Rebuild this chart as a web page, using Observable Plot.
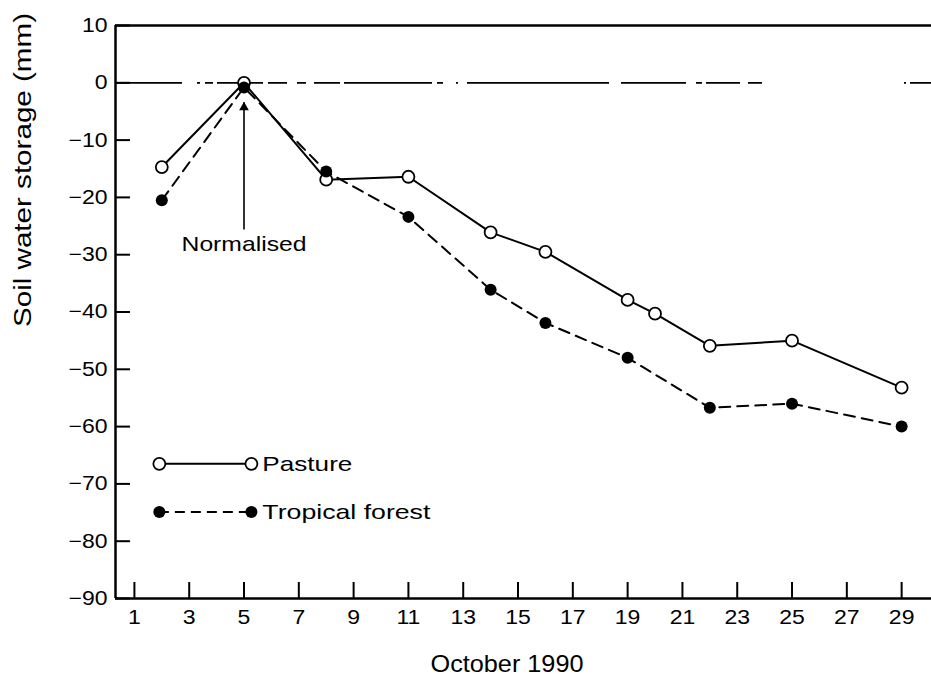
<!DOCTYPE html>
<html><head><meta charset="utf-8">
<script src="https://cdn.jsdelivr.net/npm/d3@7"></script>
<script src="https://cdn.jsdelivr.net/npm/@observablehq/plot@0.6"></script>
<style>
body{margin:0;background:#fff;}
#chart svg{display:block;}
</style></head><body><div id="chart"></div>
<script>
// ---- data ----
const pastureDays = [2, 5, 8, 11, 14, 16, 19, 20, 22, 25, 29];
const pastureValues = [-14.7, 0, -16.9, -16.4, -26.1, -29.5, -37.9, -40.3, -45.9, -45.0, -53.2];
const forestDays = [2, 5, 8, 11, 14, 16, 19, 22, 25, 29];
const forestValues = [-20.5, -0.8, -15.5, -23.4, -36.1, -41.9, -48.0, -56.7, -56.0, -60.0];
const xTicks = [1, 3, 5, 7, 9, 11, 13, 15, 17, 19, 21, 23, 25, 27, 29];
const yTicks = [10, 0, -10, -20, -30, -40, -50, -60, -70, -80, -90];
const seriesNames = ["Pasture", "Tropical forest"];
const annotationText = "Normalised";
const annotationDay = 5;
const xTitle = "October 1990";
const yTitle = "Soil water storage (mm)";

// ---- layout ----
const W = 931, H = 684, ML = 115, MT = 25, MB = 86, MR = 0;
const plotW = W - ML - MR, plotH = H - MT - MB;
const xDomain = [0.31, 30.09], yDomain = [-90, 10];
const font = "'Liberation Sans', Arial, Helvetica, sans-serif";

const pastureData = pastureDays.map((d, i) => ({day: d, value: pastureValues[i]}));
const forestData = forestDays.map((d, i) => ({day: d, value: forestValues[i]}));
const legendRows = [
  {label: seriesNames[0], y: -66.5},
  {label: seriesNames[1], y: -74.9}
];
const legX1 = 1.91, legX2 = 5.27, legTextX = 5.67;
const forestDash = "11,7";
const zeroDash = "67,15,3,5,8,4,46,5,19,10,9,8,26,4,88,5,6,13,2,9,142,12,65,10,6,4,34,8,14,142,2,4,40";

const chart = Plot.plot({
  width: W, height: H,
  marginLeft: ML, marginTop: MT, marginBottom: MB, marginRight: MR,
  style: {fontFamily: font, fontSize: "20px", color: "black", background: "white"},
  x: {domain: xDomain},
  y: {domain: yDomain},
  marks: [
    // zero reference line
    Plot.ruleY([0], {stroke: "black", strokeWidth: 1.8, strokeDasharray: zeroDash}),
    // frame: top, bottom, left
    Plot.ruleY([yDomain[1]], {stroke: "black", strokeWidth: 2.5}),
    Plot.ruleY([yDomain[0]], {stroke: "black", strokeWidth: 2.5}),
    Plot.ruleX([xDomain[0]], {stroke: "black", strokeWidth: 2.5}),
    // inward ticks
    Plot.tickY(yTicks, {y: d => d, stroke: "black", strokeWidth: 2, insetRight: plotW - 15}),
    Plot.tickX(xTicks, {x: d => d, stroke: "black", strokeWidth: 2, insetTop: plotH - 16}),
    // tick labels
    Plot.axisY(yTicks, {tickSize: 0, tickPadding: 8, label: null, fontSize: 20}),
    Plot.axisX(xTicks, {tickSize: 0, tickPadding: 11, label: null, fontSize: 20}),
    // axis titles
    Plot.text([yTitle], {frameAnchor: "left", text: d => d, rotate: -90, dx: -91.5, dy: 15, fontSize: 23, lineAnchor: "middle"}),
    Plot.text([xTitle], {frameAnchor: "bottom", text: d => d, dx: -16.5, dy: 66, fontSize: 24, lineAnchor: "middle"}),
    // data
    Plot.line(pastureData, {x: "day", y: "value", stroke: "black", strokeWidth: 2}),
    Plot.dot(pastureData, {x: "day", y: "value", r: 6, fill: "white", stroke: "black", strokeWidth: 1.8}),
    Plot.line(forestData, {x: "day", y: "value", stroke: "black", strokeWidth: 2, strokeDasharray: forestDash}),
    Plot.dot(forestData, {x: "day", y: "value", r: 6, fill: "black"}),
    // annotation
    Plot.ruleX([annotationDay], {x: d => d, y1: -25.7, y2: -3.5, stroke: "black", strokeWidth: 1.6}),
    Plot.dot([annotationDay], {x: d => d, y: -4.3, symbol: "triangle", r: 3.6, fill: "black", stroke: "none"}),
    Plot.text([annotationText], {x: annotationDay, y: -28.1, text: d => d, fontSize: 21, lineAnchor: "middle"}),
    // legend
    Plot.ruleY([legendRows[0]], {y: "y", x1: legX1, x2: legX2, stroke: "black", strokeWidth: 2}),
    Plot.ruleY([legendRows[1]], {y: "y", x1: legX1, x2: legX2, stroke: "black", strokeWidth: 2, strokeDasharray: "10,6"}),
    Plot.dot([legendRows[0]], {x: () => legX1, y: "y", r: 6, fill: "white", stroke: "black", strokeWidth: 1.8}),
    Plot.dot([legendRows[0]], {x: () => legX2, y: "y", r: 6, fill: "white", stroke: "black", strokeWidth: 1.8}),
    Plot.dot([legendRows[1]], {x: () => legX1, y: "y", r: 6, fill: "black"}),
    Plot.dot([legendRows[1]], {x: () => legX2, y: "y", r: 6, fill: "black"}),
    Plot.text(legendRows, {x: () => legTextX, y: "y", text: "label", textAnchor: "start", fontSize: 21, lineAnchor: "middle"})
  ]
});
document.getElementById("chart").append(chart);

// widen the lettering like the reference's typeface
const targets = {"Normalised": 125, "October 1990": 153, "Soil water storage (mm)": 314, "Pasture": 90, "Tropical forest": 168};
chart.querySelectorAll("text").forEach(t => {
  const s = t.textContent;
  let L = targets[s];
  if (!L) L = t.getComputedTextLength() * 1.15;
  t.setAttribute("textLength", L.toFixed(1));
  t.setAttribute("lengthAdjust", "spacingAndGlyphs");
});
</script>
</body></html>
